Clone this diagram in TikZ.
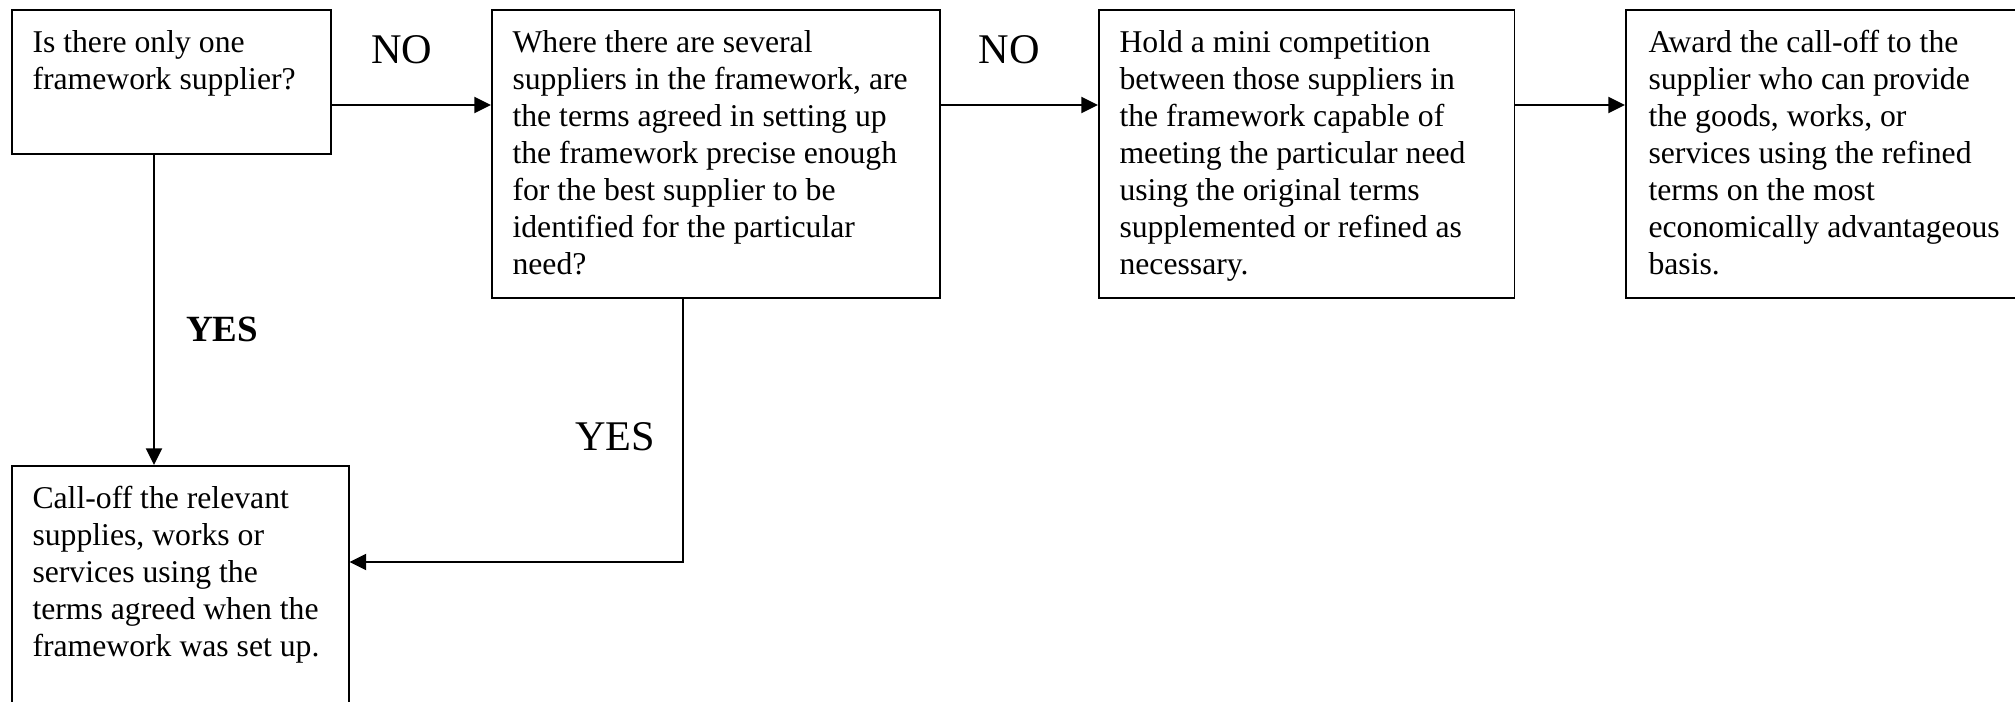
\documentclass[tikz,border=0pt]{standalone}
\usepackage{fontspec}
\setmainfont{Liberation Serif}
\usetikzlibrary{arrows.meta}

\begin{document}
\begin{tikzpicture}[x=0.0133cm, y=-0.0133cm,
	box/.style={draw, line width=0.7pt, anchor=north west, inner sep=0pt},
	txt/.style={anchor=north west, align=left, inner sep=0pt, font=\fontsize{12}{14}\selectfont},
	link/.style={line width=1pt, -{Triangle[length=6.3pt,width=6pt]}},
	lbl/.style={font=\fontsize{16}{19}\selectfont}]
			\useasboundingbox (0,0) rectangle (2015,702);
			% boxes
			\node [box, minimum width=4.24cm, minimum height=1.915cm] (single) at (11,9) {};
			\node [box, minimum width=5.96cm, minimum height=3.83cm] (choice) at (491,9) {};
			\node [box, minimum width=5.53cm, minimum height=3.83cm] (mini) at (1098,9) {};
			\node [box, minimum width=6.5cm, minimum height=3.83cm] (award) at (1625,9) {};
			\node [box, minimum width=4.48cm, minimum height=4cm] (calloff) at (11,465) {};
			% texts
			\node [txt] (single-txt) at ([shift={(21,21)}]single.north west) {Is there only one\\framework supplier?};
			\node [txt] (choice-txt) at ([shift={(21,21)}]choice.north west) {Where there are several\\suppliers in the framework, are\\the terms agreed in setting up\\the framework precise enough\\for the best supplier to be\\identified for the particular\\need?};
			\node [txt] (mini-txt) at ([shift={(21,21)}]mini.north west) {Hold a mini competition\\between those suppliers in\\the framework capable of\\meeting the particular need\\using the original terms\\supplemented or refined as\\necessary.};
			\node [txt] (award-txt) at ([shift={(23,21)}]award.north west) {Award the call-off to the\\supplier who can provide\\the goods, works, or\\services using the refined\\terms on the most\\economically advantageous\\basis.};
			\node [txt] (calloff-txt) at ([shift={(21,21)}]calloff.north west) {Call-off the relevant\\supplies, works or\\services using the\\terms agreed when the\\framework was set up.};
			% labels
			\node [lbl] (no-a) at (402,50) {NO};
			\node [lbl] (no-b) at (1009,50) {NO};
			\node [font=\bfseries\fontsize{14}{16}\selectfont] (yes-a) at (222,329) {YES};
			\node [lbl] (yes-b) at (615,437) {YES};
			% connectors
			\coordinate (row) at (0,105);
			\coordinate (col) at (154,0);
			\coordinate (bend) at (683,562);
			\draw [link] (single.east |- row) -- (choice.west |- row);
			\draw [link] (choice.east |- row) -- (mini.west |- row);
			\draw [link] (mini.east |- row) -- (award.west |- row);
			\draw [link] (single.south -| col) -- (calloff.north -| col);
			\draw [link] (choice.south -| bend) -- (bend) -- (calloff.east |- bend);
		\end{tikzpicture}
\end{document}
